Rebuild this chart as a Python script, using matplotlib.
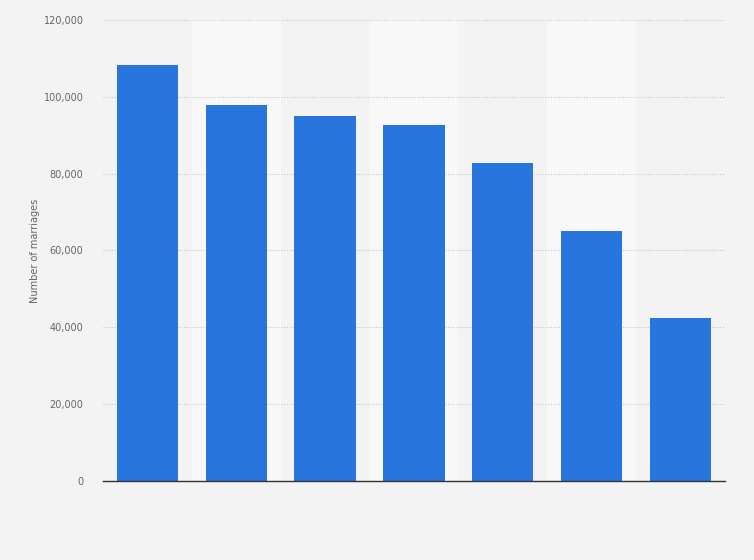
import numpy as np
import matplotlib.pyplot as plt

# Données
categories = ["A", "B", "C", "D", "E", "F", "G"]
valeurs = [108300, 98000, 95100, 92700, 82800, 65100, 42400]
yticks = [0, 20000, 40000, 60000, 80000, 100000, 120000]

fig = plt.figure(figsize=(7.54, 5.6), dpi=100)
fig.patch.set_facecolor("#f3f3f3")
ax = fig.add_axes([0.1366, 0.1411, 0.8249, 0.8232])
ax.set_facecolor("#f3f3f3")

x = np.arange(len(categories))

# Bandes alternées plus claires
for i in x:
    if i % 2 == 1:
        ax.axvspan(i - 0.5, i + 0.5, color="#f8f8f8", zorder=0, lw=0)

ax.bar(x, valeurs, width=0.69, color="#2876dd", zorder=3)

ax.set_xlim(-0.5, len(categories) - 0.5)
ax.set_ylim(0, 120000)
ax.set_yticks(yticks)
ax.set_yticklabels([f"{v:,}" for v in yticks], fontsize=7, color="#666666")
ax.set_xticks(x)
ax.set_xticklabels([""] * len(categories))
ax.tick_params(axis="both", length=0, pad=14)

ax.yaxis.grid(True, linestyle=(0, (1, 1.5)), color="#c8c8c8", linewidth=0.8, zorder=1)
ax.set_axisbelow(True)
for s in ["top", "right", "left"]:
    ax.spines[s].set_visible(False)
ax.spines["bottom"].set_color("#333333")
ax.spines["bottom"].set_linewidth(1.0)
ax.spines["bottom"].set_zorder(4)

ax.set_ylabel("Number of marriages", fontsize=7, color="#666666")
ax.yaxis.set_label_coords(-0.101, 0.5)

plt.savefig("out.png", dpi=100, facecolor=fig.get_facecolor())
